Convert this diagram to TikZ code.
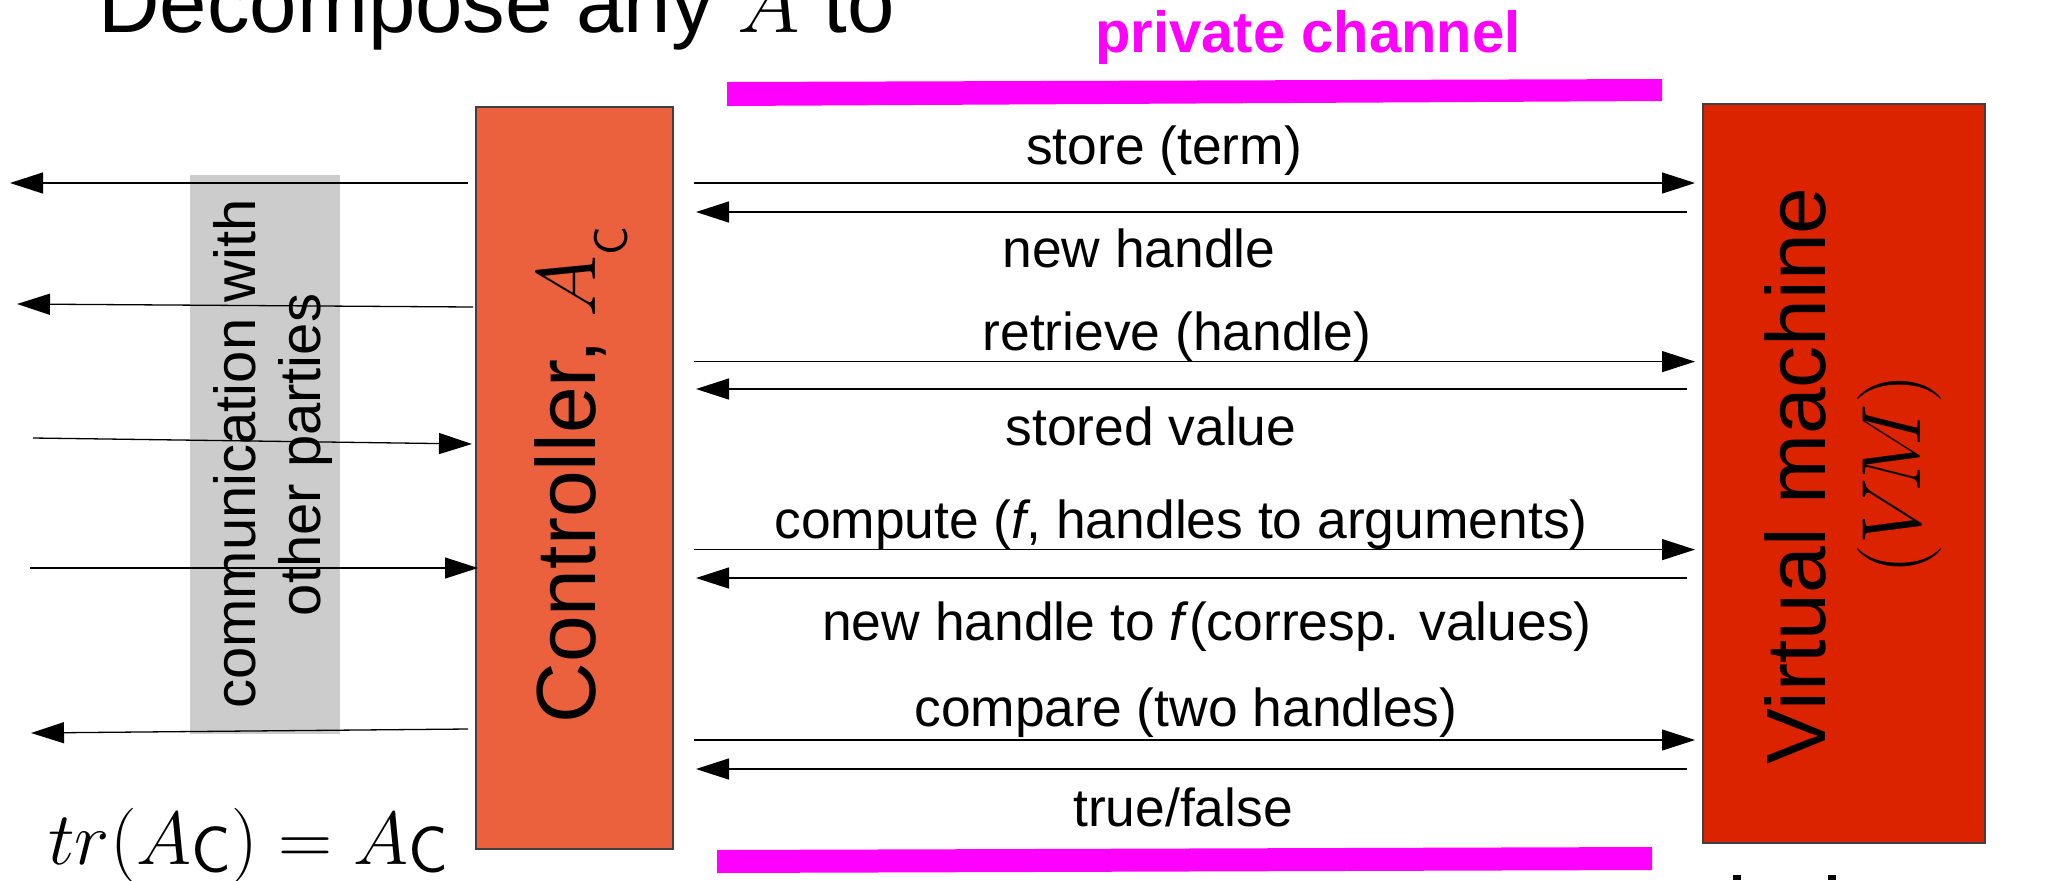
\RequirePackage{fix-cm}
\documentclass[tikz,border=0pt]{standalone}
\usepackage{fontspec}
\setmainfont{Liberation Sans}
\usetikzlibrary{arrows.meta,calc}
\definecolor{ctrlc}{RGB}{235,97,61}
\definecolor{vmc}{RGB}{220,35,0}
\definecolor{grayc}{RGB}{204,204,204}
\definecolor{magc}{RGB}{255,0,255}
\newcommand{\subC}[2]{\raisebox{#1}{\fontsize{#2}{#2}\selectfont\sffamily C}}
\tikzset{
 arr/.style={line width=0.65pt, -{Triangle[length=16.5pt,width=10.5pt]}},
 lbl/.style={anchor=base, inner sep=0pt, font=\fontsize{26.7}{32}\selectfont},
 big/.style={anchor=base, inner sep=0pt, rotate=90, font=\fontsize{42}{50}\selectfont},
 comm/.style={anchor=base, inner sep=0pt, rotate=90, font=\fontsize{29}{34}\selectfont},
 boxstyle/.style={anchor=north west, inner sep=0pt, outer sep=0pt, draw=black!75, line width=0.6pt},
}
\begin{document}
\begin{tikzpicture}[x=0.5pt,y=-0.5pt]
\useasboundingbox (0,0) rectangle (2047,880);
% title
\node[anchor=base west, inner sep=0pt, font=\fontsize{42.6}{50}\selectfont] (title) at (98,32) {Decompose any $A$ to};
\node[anchor=base, inner sep=0pt, font=\fontsize{29}{34}\selectfont\bfseries, text=magc] (pc) at (1308,52) {private channel};
% private channel bars
\fill[magc] (727,82) -- (1662,79) -- (1662,101) -- (727,106) -- cycle;
\fill[magc] (717,850) -- (1652,847) -- (1652,870) -- (717,873) -- cycle;
% gray box
\node[boxstyle, fill=grayc, draw=none, minimum width=75pt, minimum height=279.5pt] (gray) at (190,175) {};
\node[comm] (comm1) at (255,454) {communication with};
\node[comm] (comm2) at (320,455) {other parties};
% controller
\node[boxstyle, fill=ctrlc, minimum width=98.5pt, minimum height=371pt] (ctrl) at (476,107) {};
\node[big] (ctrltext) at (595,475) {Controller, $A$\subC{-16pt}{24}};
% VM
\node[boxstyle, fill=vmc, minimum width=141pt, minimum height=369.5pt] (vm) at (1703,104) {};
\node[big] (vmtext1) at (1825,476) {Virtual machine};
\node[big] (vmtext2) at (1920,474) {$(V\!M)$};
% formula
\node[anchor=base west, inner sep=0pt, font=\fontsize{37.5}{45}\selectfont] (formula) at (48,864) {$tr(A\mbox{\subC{-4pt}{33}}) = A\mbox{\subC{-4pt}{33}}$};
% cut-off marks
\fill (1733,875) rectangle (1741,880);
\fill (1828,875) rectangle (1836,880);
% left arrows
\coordinate (o1) at (10,183);
\coordinate (o2) at (17,304);
\coordinate (o3) at (33,438);
\coordinate (o4) at (30,568);
\coordinate (o5) at (31,733);
\draw[arr] ($(ctrl.west|-0,183)+(-8,0)$) -- (o1);
\draw[arr] ($(ctrl.west|-0,307)+(-3,0)$) -- (o2);
\draw[arr] (o3) -- ($(ctrl.west|-0,444)+(-4,0)$);
\draw[arr] (o4) -- ($(ctrl.west|-0,568)+(2,0)$);
\draw[arr] ($(ctrl.west|-0,729)+(-8,0)$) -- (o5);
% right arrows
\foreach \ya/\yb in {183/212, 361.6/389, 549.6/578, 740/769} {
 \draw[arr] ($(ctrl.east|-0,\ya)+(21,0)$) -- ($(vm.west|-0,\ya)+(-8,0)$);
 \draw[arr] ($(vm.west|-0,\yb)+(-16,0)$) -- ($(ctrl.east|-0,\yb)+(23,0)$);
}
% labels
\node[lbl] (l1) at (1164,164) {store (term)};
\node[lbl] (l2) at (1139,267) {new handle};
\node[lbl] (l3) at (1177,350) {retrieve (handle)};
\node[lbl] (l4) at (1151,445) {stored value};
\node[lbl] (l5) at (1181,538) {compute (\textit{f}, handles to arguments)};
\node[lbl] (l6) at (1207,640) {new handle to \textit{f}(corresp. values)};
\node[lbl] (l7) at (1186,726) {compare (two handles)};
\node[lbl] (l8) at (1183,826) {true/false};
\end{tikzpicture}
\end{document}
